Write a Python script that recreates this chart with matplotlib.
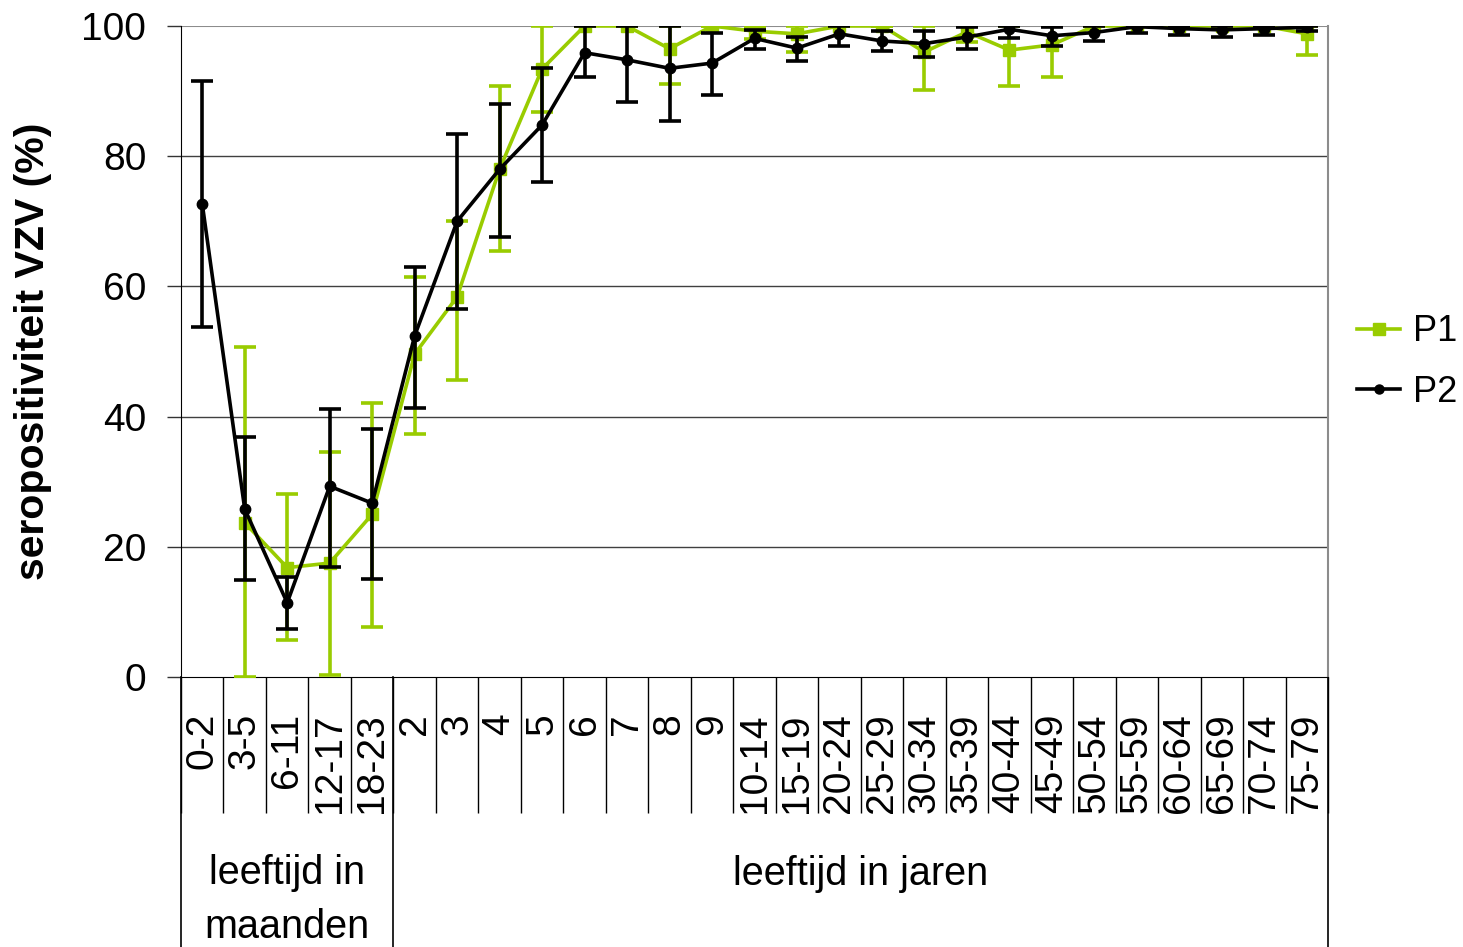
import numpy as np
import matplotlib
matplotlib.use("Agg")
import matplotlib.pyplot as plt
from matplotlib.lines import Line2D
from matplotlib.transforms import blended_transform_factory

plt.rcParams['font.family'] = ['Liberation Sans', 'DejaVu Sans']

categories = ["0-2", "3-5", "6-11", "12-17", "18-23", "2", "3", "4", "5", "6", "7", "8", "9",
              "10-14", "15-19", "20-24", "25-29", "30-34", "35-39", "40-44", "45-49",
              "50-54", "55-59", "60-64", "65-69", "70-74", "75-79"]

p1 = [np.nan, 23.7, 16.8, 17.5, 25.0, 49.6, 58.4, 78.0, 93.4, 100, 100, 96.5, 100,
      99.2, 98.8, 100, 100, 96.0, 99.1, 96.3, 97.1, 100, 100, 100, 100, 100, 98.8]
p1_hi = [np.nan, 50.7, 28.1, 34.6, 42.1, 61.4, 70.0, 90.8, 100, 100, 100, 100, 100,
         99.8, 100, 100, 100, 100, 100, 100, 100, 100, 100, 100, 100, 100, 100]
p1_lo = [np.nan, 0.0, 5.7, 0.3, 7.7, 37.3, 45.6, 65.4, 86.8, 100, 100, 91.1, 100,
         98.0, 96.0, 100, 100, 90.2, 97.5, 90.8, 92.2, 100, 100, 100, 100, 100, 95.5]

p2 = [72.7, 25.8, 11.4, 29.3, 26.7, 52.4, 70.0, 78.0, 84.8, 95.9, 94.8, 93.5, 94.3,
      98.1, 96.6, 98.8, 97.7, 97.3, 98.3, 99.5, 98.5, 99.0, 99.9, 99.6, 99.4, 99.6, 99.8]
p2_hi = [91.6, 36.8, 15.4, 41.2, 38.1, 63.0, 83.4, 88.0, 93.6, 100, 100, 100, 98.9,
         99.4, 98.3, 100, 99.2, 99.2, 99.8, 100, 99.8, 100, 100, 100, 100, 100, 100]
p2_lo = [53.8, 14.9, 7.4, 16.9, 15.1, 41.3, 56.5, 67.6, 76.0, 92.2, 88.3, 85.4, 89.4,
         96.5, 94.6, 97.0, 96.2, 95.3, 96.5, 98.1, 97.0, 97.7, 99.0, 98.6, 98.3, 98.6, 99.3]

groups = ["leeftijd in\nmaanden", "leeftijd in jaren"]
group_sizes = [5, 22]

green = '#99CC00'
W, H = 1463, 947
fig = plt.figure(figsize=(W / 100, H / 100), dpi=100)
ax = fig.add_axes([181 / W, 1 - 677 / H, (1328 - 181) / W, (677 - 26) / H])

x = np.arange(len(categories))
p1a, p2a = np.array(p1), np.array(p2)
err1 = [p1a - np.array(p1_lo), np.array(p1_hi) - p1a]
err2 = [p2a - np.array(p2_lo), np.array(p2_hi) - p2a]

LW = 2.6
ax.errorbar(x, p1a, yerr=err1, color=green, lw=LW, marker='s', ms=8,
            elinewidth=LW, capsize=8, capthick=LW, label='P1', zorder=3)
ax.errorbar(x, p2a, yerr=err2, color='black', lw=LW, marker='o', ms=7.5,
            elinewidth=LW, capsize=8, capthick=LW, label='P2', zorder=4)

ax.set_xlim(-0.5, len(categories) - 0.5)
ax.set_ylim(0, 100)
ax.set_yticks([0, 20, 40, 60, 80, 100])
for v in [20, 40, 60, 80]:
    ax.axhline(v, color='#404040', lw=1.0, zorder=1)
ax.axhline(100, color='#8c8c8c', lw=1.5, zorder=1)

ax.spines['top'].set_visible(False)
ax.spines['right'].set_color('#8c8c8c')
ax.spines['right'].set_linewidth(1.5)
ax.spines['left'].set_color('black')
ax.spines['bottom'].set_color('black')

ax.set_xticks(x)
ax.set_xticklabels(categories, rotation=90, fontsize=28)
ax.tick_params(axis='x', which='major', length=0, pad=26)
ax.set_xticks(np.arange(-0.5, len(categories) - 0.4, 1.0), minor=True)
ax.tick_params(axis='x', which='minor', length=98, width=1.0, color='black', direction='out')
ax.tick_params(axis='y', labelsize=28, length=10, width=1.0, color='#333333', pad=15)

# group separators
trans = blended_transform_factory(ax.transData, ax.transAxes)
bounds = np.concatenate([[-0.5], -0.5 + np.cumsum(group_sizes)])
for b in bounds:
    ax.add_line(Line2D([b, b], [0, -(H - 677) / (677 - 26)], transform=trans,
                       color='black', lw=1.2, clip_on=False))

tg = blended_transform_factory(ax.transData, fig.transFigure)
for i, g in enumerate(groups):
    c = (bounds[i] + bounds[i + 1]) / 2
    nlines = g.count('\n') + 1
    ycen = 874 + (nlines - 1) * 26
    ax.text(c, 1 - ycen / H, g, transform=tg, ha='center', va='center',
            fontsize=28.5, linespacing=1.5)

ax.set_ylabel('seropositiviteit VZV (%)', fontsize=29.5, fontweight='bold')
ax.yaxis.set_label_coords((52 - 181) / (1328 - 181), 0.5)

h1 = Line2D([], [], color=green, lw=LW, marker='s', ms=8)
h2 = Line2D([], [], color='black', lw=LW, marker='o', ms=6.5)
fig.legend([h1, h2], ['P1', 'P2'], loc='center left',
           bbox_to_anchor=(1357 / W, 1 - 362 / H), frameon=False, fontsize=26,
           handlelength=1.2, handletextpad=0.35, labelspacing=0.7,
           borderaxespad=0, borderpad=0)

fig.savefig('out.png', dpi=100)
